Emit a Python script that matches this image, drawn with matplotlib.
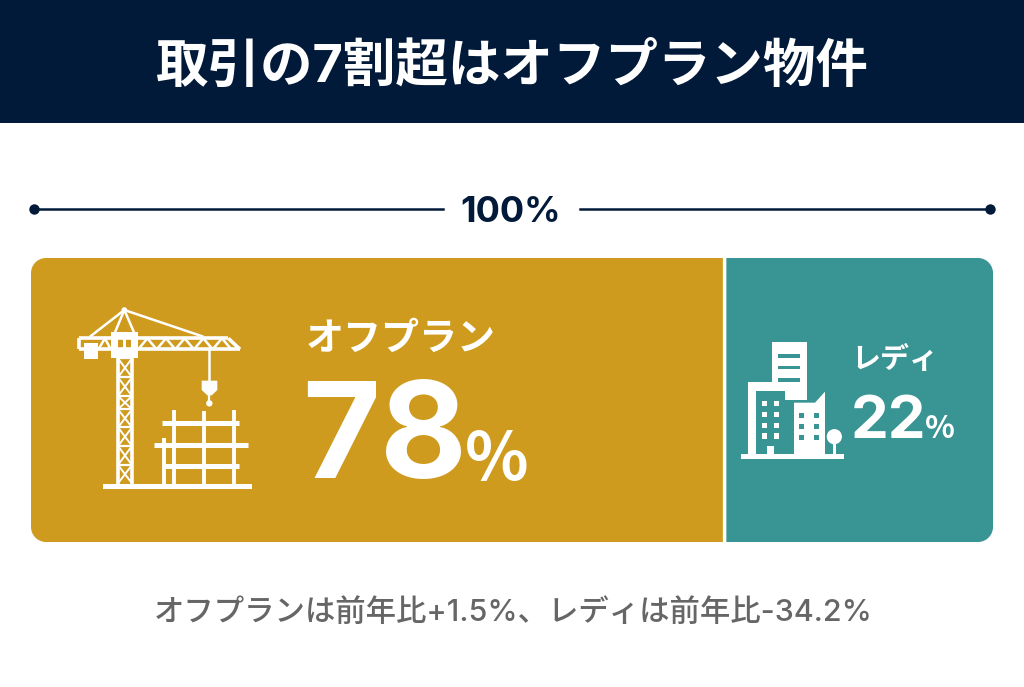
import matplotlib
matplotlib.use('Agg')
import matplotlib.pyplot as plt
from matplotlib.patches import Rectangle, Circle, Polygon, PathPatch
from matplotlib.path import Path

plt.rcParams['font.family'] = ['Inter', 'Noto Sans CJK JP', 'DejaVu Sans']

title = '取引の7割超はオフプラン物件'
total_label = '100%'
categories = ['オフプラン', 'レディ']
shares = [78, 22]
# the bars in the picture are not drawn to scale with the labels, widths read off the picture
drawn_widths = [72.1, 27.9]
bar_colors = ['#CF9B1E', '#399494']
note = 'オフプランは前年比+1.5%、レディは前年比-34.2%'

NAVY = '#021A3A'
WHITE = '#FFFFFF'
CJK = ['Noto Sans CJK JP', 'DejaVu Sans']


def px(size):
    return size * 0.72


def rounded_bar(ax, x0, x1, y0, y1, r, left, right, color):
    k = 0.45 * r
    M, L, C = Path.MOVETO, Path.LINETO, Path.CURVE4
    v, c = [], []
    if left:
        v += [(x0, y0 + r), (x0, y0 + k), (x0 + k, y0), (x0 + r, y0)]
        c += [M, C, C, C]
    else:
        v += [(x0, y0)]
        c += [M]
    if right:
        v += [(x1 - r, y0), (x1 - k, y0), (x1, y0 + k), (x1, y0 + r),
              (x1, y1 - r), (x1, y1 - k), (x1 - k, y1), (x1 - r, y1)]
        c += [L, C, C, C, L, C, C, C]
    else:
        v += [(x1, y0), (x1, y1)]
        c += [L, L]
    if left:
        v += [(x0 + r, y1), (x0 + k, y1), (x0, y1 - k), (x0, y1 - r), (x0, y0 + r)]
        c += [L, C, C, C, L]
    else:
        v += [(x0, y1), (x0, y0)]
        c += [L, L]
    ax.add_patch(PathPatch(Path(v, c), fc=color, ec='none'))


def draw_crane(ax):
    def X(a): return 60 + a / 3
    def Y(a): return 290 + a / 3

    def line(xs, ys, lw=2.0):
        ax.plot([X(a) for a in xs], [Y(a) for a in ys], color=WHITE, lw=lw,
                solid_capstyle='butt', solid_joinstyle='miter')

    def box(a0, b0, a1, b1, color=WHITE):
        ax.add_patch(Rectangle((X(a0), Y(b0)), (a1 - a0) / 3, (b1 - b0) / 3, fc=color, ec='none'))

    # mast
    line([174, 174], [200, 585], 2.6)
    line([216, 216], [200, 585], 2.6)
    levels = [205, 262, 318, 358, 412, 468, 525, 580]
    for i in range(len(levels) - 1):
        line([174, 216], [levels[i], levels[i]], 1.6)
        line([174, 216], [levels[i], levels[i + 1]], 1.4)
        line([216, 174], [levels[i], levels[i + 1]], 1.4)
    # jib
    line([57, 505], [145, 145], 2.6)
    line([57, 540], [178, 178], 2.6)
    line([505, 540], [145, 178], 2.6)
    line([57, 57], [145, 178], 2.6)
    zig_x = [235, 262, 290, 318, 346, 374, 402, 430, 458, 486, 514]
    for i, a in enumerate(zig_x):
        if i % 2 == 0 and i + 2 < len(zig_x):
            line([a, zig_x[i + 1], zig_x[i + 2]], [178, 145, 178], 1.8)
    line([115, 135, 152], [178, 145, 178], 1.8)
    # ties
    line([90, 193], [140, 60], 1.8)
    line([193, 430], [60, 140], 1.8)
    line([193, 165], [60, 127], 1.8)
    line([193, 222], [60, 127], 1.8)
    ax.add_patch(Circle((X(193), Y(60)), 2.8, fc=WHITE, ec='none'))
    # cab and counterweight
    box(152, 127, 235, 205)
    box(174, 148, 189, 180, '#CF9B1E')
    box(198, 148, 213, 180, '#CF9B1E')
    box(72, 160, 115, 208)
    # hook
    line([448, 448], [178, 272], 1.8)
    ax.add_patch(Polygon([(X(a), Y(b)) for a, b in [(425, 272), (472, 272), (472, 300), (455, 316), (442, 316), (425, 300)]],
                         fc=WHITE, ec='none'))
    line([448, 448], [316, 335], 1.6)
    ax.add_patch(Circle((X(448), Y(340)), 3.2, fc=WHITE, ec='none'))
    # scaffold
    for a, top in [(342, 360), (432, 362), (522, 360), (312, 445)]:
        line([a, a], [top, 585], 2.8)
    line([305, 538], [400, 400], 3.6)
    line([283, 563], [465, 465], 3.6)
    line([310, 538], [527, 527], 3.6)
    box(130, 582, 575, 598)


def draw_buildings(ax):
    def X(a): return 720 + a / 3
    def Y(a): return 320 + a / 3

    def box(a0, b0, a1, b1, color=WHITE):
        ax.add_patch(Rectangle((X(a0), Y(b0)), (a1 - a0) / 3, (b1 - b0) / 3, fc=color, ec='none'))

    TEAL = bar_colors[1]
    box(155, 65, 262, 240)
    for b in [108, 143, 180]:
        box(175, b - 5, 240, b + 5, TEAL)
    box(85, 185, 195, 405)
    box(107, 213, 195, 405, TEAL)
    for a in [125, 162]:
        for b in [242, 275, 308, 340]:
            box(a, b, a + 16, b + 16)
    box(140, 378, 162, 405)
    ax.add_patch(Polygon([(X(a), Y(b)) for a, b in [(222, 248), (285, 248), (315, 215), (315, 405), (222, 405)]],
                         fc=WHITE, ec='none'))
    for a in [238, 282]:
        for b in [280, 312, 345]:
            box(a, b, a + 14, b + 15, TEAL)
    ax.add_patch(Circle((X(343), Y(350)), 9.0, fc=TEAL, ec='none'))
    ax.add_patch(Circle((X(343), Y(350)), 7.6, fc=WHITE, ec='none'))
    box(339, 365, 347, 405)
    box(62, 403, 372, 418)


fig = plt.figure(figsize=(10.24, 6.87), dpi=100, facecolor=WHITE)
ax = fig.add_axes([0, 0, 1, 1])
ax.set_xlim(0, 1024)
ax.set_ylim(687, 0)
ax.axis('off')

# header
ax.add_patch(Rectangle((0, 0), 1024, 123, fc=NAVY, ec='none'))
ax.text(511.5, 82, title, color=WHITE, fontsize=px(52.5), fontweight='bold', ha='center', va='baseline')

# 100% bracket
ax.plot([34, 443], [209, 209], color=NAVY, lw=1.8)
ax.plot([580, 990], [209, 209], color=NAVY, lw=1.8)
ax.plot([34, 990], [209, 209], 'o', color=NAVY, ms=7.5, mew=0)
ax.text(511, 222, total_label, color=NAVY, fontsize=px(36), fontweight='bold', ha='center', va='baseline')

# bars
bar_left, bar_right = 31, 993
gap = 3.5
scale = (bar_right - bar_left) / sum(drawn_widths)
split = bar_left + drawn_widths[0] * scale
rounded_bar(ax, bar_left, split - gap / 2, 258, 542, 15, True, False, bar_colors[0])
rounded_bar(ax, split + gap / 2, bar_right, 258, 542, 15, False, True, bar_colors[1])

draw_crane(ax)
draw_buildings(ax)

# labels
ax.text(306, 350, categories[0], color=WHITE, fontsize=px(38), fontweight='bold', ha='left', va='baseline')
ax.text(302, 478, str(shares[0]), color=WHITE, fontsize=px(134), fontweight='bold', ha='left', va='baseline')
ax.text(465, 480, '%', color=WHITE, fontsize=px(66), fontweight='bold', ha='left', va='baseline', family=CJK)
ax.text(851, 368, categories[1], color=WHITE, fontsize=px(29), fontweight='bold', ha='left', va='baseline')
ax.text(851, 438, str(shares[1]), color=WHITE, fontsize=px(60), fontweight='bold', ha='left', va='baseline')
ax.text(925, 438, '%', color=WHITE, fontsize=px(31), fontweight='bold', ha='left', va='baseline', family=CJK)

# note
ax.text(513, 621, note, color='#666666', fontsize=px(30.4), fontweight='medium', ha='center', va='baseline')

fig.savefig('out.png', dpi=100, facecolor=WHITE)
